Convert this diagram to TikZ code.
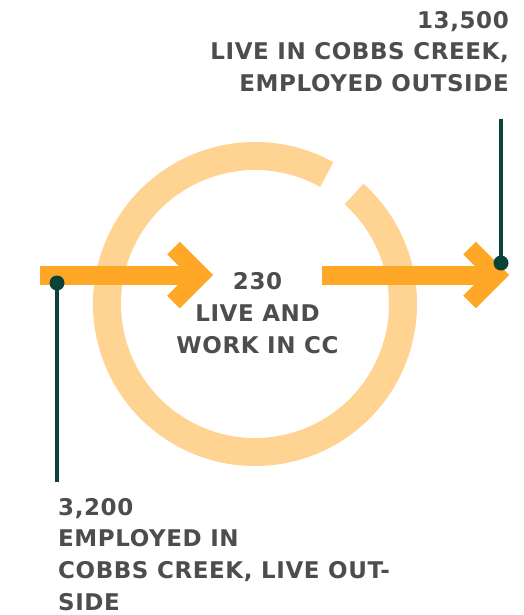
\documentclass[tikz,border=0pt]{standalone}
\usepackage{fontspec}
\setmainfont{DejaVu Sans}
\usetikzlibrary{positioning}
\definecolor{arroworange}{HTML}{FFA726}
\definecolor{ringorange}{HTML}{FFD392}
\definecolor{leadgreen}{HTML}{0B4239}
\definecolor{labelgray}{HTML}{4D4D4D}

\begin{document}
\begin{tikzpicture}[x=1pt,y=-1pt,
                    flow/.style={draw=arroworange,line width=19pt},
                    chevron/.style={draw=arroworange,line width=18pt,line join=miter},
                    ring/.style={draw=ringorange,line width=28pt},
                    lead/.style={draw=leadgreen,line width=3.5pt},
                    dot/.style={circle,fill=leadgreen,inner sep=0pt,minimum size=15pt},
                    figure/.style={text=labelgray,inner sep=0pt,
                      font=\fontsize{23}{31.7}\selectfont\bfseries\addfontfeatures{LetterSpace=2.5}}]
  \useasboundingbox (0,0) rectangle (524,615);

  % ring
  \draw[ring] (255,304) ++(61:148pt) arc[start angle=61,end angle=408,radius=148pt];

  % arrows
  \coordinate (inStart)  at (40,275);
  \coordinate (inTip)    at (200.5,275);
  \coordinate (outStart) at (322,275);
  \coordinate (outTip)   at (496.5,275);

  \draw[flow] (inStart) -- (inTip);
  \draw[chevron] (inTip) ++(-27,-27) -- (inTip) -- ++(-27,27);
  \draw[flow] (outStart) -- (outTip);
  \draw[chevron] (outTip) ++(-27,-27) -- (outTip) -- ++(-27,27);

  % labels
  \node[figure,anchor=north east,align=right] (outside) at (509,11)
    {13,500\\LIVE IN COBBS CREEK,\\EMPLOYED OUTSIDE};
  \node[figure,anchor=north,align=center] (inside) at (257.5,272.5)
    {230\\LIVE AND\\WORK IN CC};
  \node[figure,anchor=north west,align=left] (inward) at (58,498)
    {3,200\\EMPLOYED IN\\COBBS CREEK, LIVE OUT-\\SIDE};

  % leads
  \node[dot] (dotR) at (501,263) {};
  \node[dot] (dotL) at (57,283) {};
  \coordinate (tagR) at (501,119);
  \coordinate (tagL) at (57,482);
  \draw[lead] (dotR.center) -- (tagR);
  \draw[lead] (dotL.center) -- (tagL);
\end{tikzpicture}
\end{document}
